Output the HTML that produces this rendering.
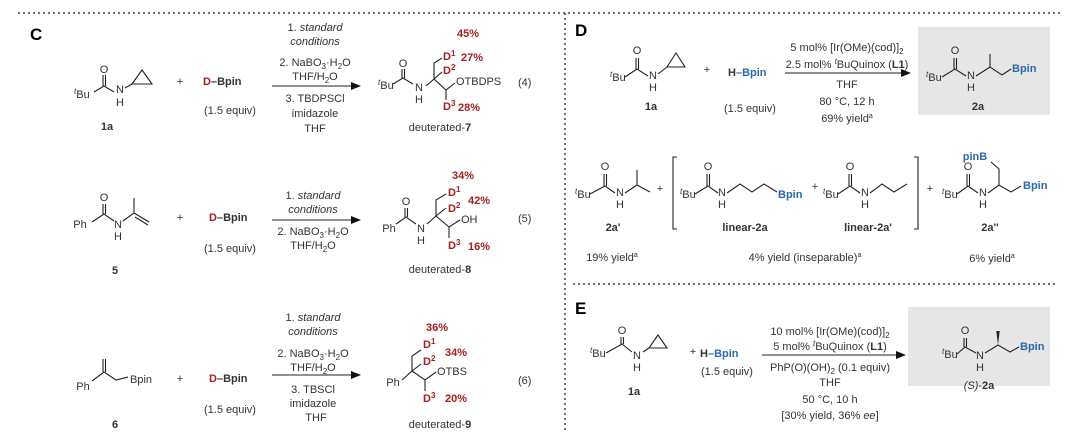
<!DOCTYPE html>
<html><head><meta charset="utf-8"><style>
html,body{margin:0;padding:0;background:#fff;}
svg{display:block;font-family:"Liberation Sans",sans-serif;}
.t{font-size:11px;fill:#333;}
.b{font-weight:bold;}
.r{fill:#a3201f;font-weight:bold;}
.bl{fill:#2c68ad;font-weight:bold;}
.m{text-anchor:middle;}
line,polyline,polygon{stroke:#222;stroke-width:1.1;fill:none;}
.dot{stroke:#444;stroke-width:1.5;stroke-dasharray:2 3;}
</style></head><body>
<svg width="1080" height="442" viewBox="0 0 1080 442">
<defs><marker id="ar" markerWidth="10" markerHeight="8" refX="9" refY="4" orient="auto" markerUnits="userSpaceOnUse"><path d="M0,0 L10,4 L0,8 z" fill="#111"/></marker></defs>
<line class="dot" x1="18" y1="13" x2="1060" y2="13"/>
<line class="dot" x1="565" y1="13" x2="565" y2="430"/>
<line class="dot" x1="573" y1="284" x2="1055" y2="284"/>
<text x="30" y="40" style="font-size:17px;font-weight:bold">C</text>
<text x="575" y="36" style="font-size:17px;font-weight:bold">D</text>
<text x="575" y="314" style="font-size:17px;font-weight:bold">E</text>

<!-- ===== C row 1 ===== -->
<g class="t">
<text x="74" y="98"><tspan font-style="italic" font-size="8" dy="-4">t</tspan><tspan dy="4">Bu</tspan></text>
<text x="104" y="73" class="m">O</text>
<text x="120" y="93" class="m">N</text><text x="120" y="106" class="m">H</text>
<text x="107" y="130" class="m b">1a</text>
<text x="180" y="85" class="m">+</text>
<text x="203" y="85"><tspan class="r">D</tspan><tspan class="b">–Bpin</tspan></text>
<text x="230" y="114" class="m">(1.5 equiv)</text>
<text x="315" y="31" class="m">1. <tspan font-style="italic">standard</tspan></text>
<text x="315" y="45" class="m" font-style="italic">conditions</text>
<text x="315" y="66" class="m">2. NaBO<tspan font-size="8" dy="3">3</tspan><tspan dy="-3">·H</tspan><tspan font-size="8" dy="3">2</tspan><tspan dy="-3">O</tspan></text>
<text x="315" y="80" class="m">THF/H<tspan font-size="8" dy="3">2</tspan><tspan dy="-3">O</tspan></text>
<text x="315" y="102" class="m">3. TBDPSCl</text>
<text x="315" y="117" class="m">imidazole</text>
<text x="315" y="132" class="m">THF</text>
<text x="378" y="89"><tspan font-style="italic" font-size="8" dy="-4">t</tspan><tspan dy="4">Bu</tspan></text>
<text x="403" y="67" class="m">O</text>
<text x="419" y="91" class="m">N</text><text x="419" y="103" class="m">H</text>
<text x="443" y="60" class="r">D<tspan font-size="8" dy="-4">1</tspan></text>
<text x="443" y="74" class="r">D<tspan font-size="8" dy="-4">2</tspan></text>
<text x="456" y="85">OTBDPS</text>
<text x="443" y="110" class="r">D<tspan font-size="8" dy="-4">3</tspan></text>
<text x="457" y="37" class="r">45%</text>
<text x="461" y="61" class="r">27%</text>
<text x="458" y="111" class="r">28%</text>
<text x="440" y="131" class="m">deuterated-<tspan class="b">7</tspan></text>
<text x="518" y="86">(4)</text>
</g>
<polyline points="94,92 104,86 114,92"/>
<line x1="103" y1="86" x2="103" y2="75"/><line x1="105.5" y1="86" x2="105.5" y2="75"/>
<polygon points="132,84 142,70 152,84"/><line x1="125" y1="88" x2="132" y2="84"/>
<line x1="272" y1="86" x2="360" y2="86" marker-end="url(#ar)"/>
<polyline points="393,84 403,78 413,84"/>
<line x1="402" y1="78" x2="402" y2="69"/><line x1="404.5" y1="78" x2="404.5" y2="69"/>
<polyline points="426,86 434,79 434,63 442,58"/>
<line x1="434" y1="79" x2="442" y2="72"/>
<polyline points="434,79 446,90 455,83"/>
<line x1="446" y1="90" x2="446" y2="100"/>

<!-- ===== C row 2 ===== -->
<g class="t">
<text x="80" y="228" class="m">Ph</text>
<text x="104" y="201" class="m">O</text>
<text x="118" y="228" class="m">N</text><text x="118" y="240" class="m">H</text>
<text x="115" y="274" class="m b">5</text>
<text x="180" y="221" class="m">+</text>
<text x="209" y="221"><tspan class="r">D</tspan><tspan class="b">–Bpin</tspan></text>
<text x="230" y="252" class="m">(1.5 equiv)</text>
<text x="313" y="199" class="m">1. <tspan font-style="italic">standard</tspan></text>
<text x="313" y="213" class="m" font-style="italic">conditions</text>
<text x="313" y="235" class="m">2. NaBO<tspan font-size="8" dy="3">3</tspan><tspan dy="-3">·H</tspan><tspan font-size="8" dy="3">2</tspan><tspan dy="-3">O</tspan></text>
<text x="313" y="249" class="m">THF/H<tspan font-size="8" dy="3">2</tspan><tspan dy="-3">O</tspan></text>
<text x="389" y="232" class="m">Ph</text>
<text x="406" y="205" class="m">O</text>
<text x="421" y="232" class="m">N</text><text x="421" y="244" class="m">H</text>
<text x="448" y="196" class="r">D<tspan font-size="8" dy="-4">1</tspan></text>
<text x="448" y="212" class="r">D<tspan font-size="8" dy="-4">2</tspan></text>
<text x="461" y="223">OH</text>
<text x="448" y="249" class="r">D<tspan font-size="8" dy="-4">3</tspan></text>
<text x="452" y="179" class="r">34%</text>
<text x="468" y="204" class="r">42%</text>
<text x="468" y="250" class="r">16%</text>
<text x="440" y="273" class="m">deuterated-<tspan class="b">8</tspan></text>
<text x="518" y="222">(5)</text>
</g>
<polyline points="92,222 104,214 114,221"/>
<line x1="103" y1="214" x2="103" y2="204"/><line x1="105.5" y1="214" x2="105.5" y2="204"/>
<polyline points="123,221 134,213 134,198"/>
<line x1="134" y1="213" x2="149" y2="222"/><line x1="135" y1="217" x2="148" y2="225"/>
<line x1="272" y1="220" x2="360" y2="220" marker-end="url(#ar)"/>
<polyline points="396,224 406,217 416,224"/>
<line x1="405" y1="217" x2="405" y2="208"/><line x1="407.5" y1="217" x2="407.5" y2="208"/>
<polyline points="427,224 436,216 436,200 446,194"/>
<line x1="436" y1="216" x2="446" y2="208"/>
<polyline points="436,216 449,227 460,220"/>
<line x1="449" y1="227" x2="449" y2="238"/>

<!-- ===== C row 3 ===== -->
<g class="t">
<text x="83" y="390" class="m">Ph</text>
<text x="130" y="383">Bpin</text>
<text x="115" y="428" class="m b">6</text>
<text x="180" y="382" class="m">+</text>
<text x="209" y="382"><tspan class="r">D</tspan><tspan class="b">–Bpin</tspan></text>
<text x="230" y="413" class="m">(1.5 equiv)</text>
<text x="313" y="321" class="m">1. <tspan font-style="italic">standard</tspan></text>
<text x="313" y="335" class="m" font-style="italic">conditions</text>
<text x="313" y="357" class="m">2. NaBO<tspan font-size="8" dy="3">3</tspan><tspan dy="-3">·H</tspan><tspan font-size="8" dy="3">2</tspan><tspan dy="-3">O</tspan></text>
<text x="313" y="371" class="m">THF/H<tspan font-size="8" dy="3">2</tspan><tspan dy="-3">O</tspan></text>
<text x="313" y="393" class="m">3. TBSCl</text>
<text x="313" y="407" class="m">imidazole</text>
<text x="316" y="421" class="m">THF</text>
<text x="393" y="386" class="m">Ph</text>
<text x="423" y="348" class="r">D<tspan font-size="8" dy="-4">1</tspan></text>
<text x="423" y="365" class="r">D<tspan font-size="8" dy="-4">2</tspan></text>
<text x="437" y="375">OTBS</text>
<text x="423" y="402" class="r">D<tspan font-size="8" dy="-4">3</tspan></text>
<text x="426" y="331" class="r">36%</text>
<text x="445" y="356" class="r">34%</text>
<text x="445" y="402" class="r">20%</text>
<text x="440" y="428" class="m">deuterated-<tspan class="b">9</tspan></text>
<text x="518" y="384">(6)</text>
</g>
<polyline points="92,381 104,372 116,380 128,377"/>
<line x1="103" y1="372" x2="103" y2="359"/><line x1="105.5" y1="372" x2="105.5" y2="359"/>
<line x1="272" y1="375" x2="360" y2="375" marker-end="url(#ar)"/>
<polyline points="402,380 412,371 412,356 421,350"/>
<line x1="412" y1="371" x2="421" y2="364"/>
<polyline points="412,371 425,380 436,372"/>
<line x1="425" y1="380" x2="425" y2="391"/>

<!-- ===== D ===== -->
<rect x="918" y="27" width="132" height="88" fill="#e6e6e6"/>
<g class="t">
<text x="610" y="81"><tspan font-style="italic" font-size="8" dy="-4">t</tspan><tspan dy="4">Bu</tspan></text>
<text x="637" y="54" class="m">O</text>
<text x="653" y="79" class="m">N</text><text x="653" y="91" class="m">H</text>
<text x="651" y="110" class="m b">1a</text>
<text x="707" y="73" class="m">+</text>
<text x="728" y="76" class="b">H<tspan fill="#2c68ad">–Bpin</tspan></text>
<text x="750" y="112" class="m">(1.5 equiv)</text>
<text x="847" y="51" class="m">5 mol% [Ir(OMe)(cod)]<tspan font-size="8" dy="3">2</tspan></text>
<text x="847" y="68" class="m">2.5 mol% <tspan font-style="italic" font-size="8" dy="-4">t</tspan><tspan dy="4">BuQuinox (</tspan><tspan class="b">L1</tspan>)</text>
<text x="847" y="88" class="m">THF</text>
<text x="847" y="105" class="m">80 °C, 12 h</text>
<text x="847" y="122" class="m">69% yield<tspan font-size="7" dy="-4">a</tspan></text>
<text x="926" y="81"><tspan font-style="italic" font-size="8" dy="-4">t</tspan><tspan dy="4">Bu</tspan></text>
<text x="955" y="54" class="m">O</text>
<text x="971" y="79" class="m">N</text><text x="971" y="91" class="m">H</text>
<text x="1012" y="72" class="bl">Bpin</text>
<text x="978" y="110" class="m b">2a</text>

<text x="575" y="198"><tspan font-style="italic" font-size="8" dy="-4">t</tspan><tspan dy="4">Bu</tspan></text>
<text x="605" y="170" class="m">O</text>
<text x="620" y="196" class="m">N</text><text x="620" y="208" class="m">H</text>
<text x="613" y="231" class="m b">2a'</text>
<text x="660" y="192" class="m">+</text>
<text x="680" y="198"><tspan font-style="italic" font-size="8" dy="-4">t</tspan><tspan dy="4">Bu</tspan></text>
<text x="708" y="170" class="m">O</text>
<text x="722" y="196" class="m">N</text><text x="722" y="208" class="m">H</text>
<text x="778" y="198" class="bl">Bpin</text>
<text x="745" y="231" class="m b">linear-2a</text>
<text x="815" y="190" class="m">+</text>
<text x="823" y="198"><tspan font-style="italic" font-size="8" dy="-4">t</tspan><tspan dy="4">Bu</tspan></text>
<text x="850" y="170" class="m">O</text>
<text x="865" y="196" class="m">N</text><text x="865" y="208" class="m">H</text>
<text x="868" y="231" class="m b">linear-2a'</text>
<text x="930" y="192" class="m">+</text>
<text x="942" y="198"><tspan font-style="italic" font-size="8" dy="-4">t</tspan><tspan dy="4">Bu</tspan></text>
<text x="968" y="170" class="m">O</text>
<text x="983" y="196" class="m">N</text><text x="983" y="208" class="m">H</text>
<text x="975" y="160" class="m bl">pinB</text>
<text x="1023" y="189" class="bl">Bpin</text>
<text x="990" y="231" class="m b">2a''</text>
<text x="612" y="261" class="m">19% yield<tspan font-size="7" dy="-4">a</tspan></text>
<text x="805" y="261" class="m">4% yield (inseparable)<tspan font-size="7" dy="-4">a</tspan></text>
<text x="992" y="262" class="m">6% yield<tspan font-size="7" dy="-4">a</tspan></text>
</g>
<polyline points="625,77 637,69 648,76"/>
<line x1="636" y1="69" x2="636" y2="58"/><line x1="638.5" y1="69" x2="638.5" y2="58"/>
<polygon points="667,67 676,53 685,67"/><line x1="658" y1="74" x2="667" y2="67"/>
<line x1="785" y1="73" x2="910" y2="73" marker-end="url(#ar)"/>
<polyline points="942,77 955,69 966,76"/>
<line x1="954" y1="69" x2="954" y2="58"/><line x1="956.5" y1="69" x2="956.5" y2="58"/>
<polyline points="976,76 990,67 1002,75 1011,69"/><line x1="990" y1="67" x2="990" y2="54"/>
<polyline points="590,194 605,186 615,193"/>
<line x1="604" y1="186" x2="604" y2="174"/><line x1="606.5" y1="186" x2="606.5" y2="174"/>
<polyline points="625,193 637,185 650,192"/><line x1="637" y1="185" x2="637" y2="170"/>
<polyline points="677,157 673,157 673,229 677,229"/>
<polyline points="914,157 918,157 918,229 914,229"/>
<polyline points="695,194 708,186 718,193"/>
<line x1="707" y1="186" x2="707" y2="174"/><line x1="709.5" y1="186" x2="709.5" y2="174"/>
<polyline points="727,193 740,184 752,192 764,184 777,192"/>
<polyline points="838,194 850,186 860,193"/>
<line x1="849" y1="186" x2="849" y2="174"/><line x1="851.5" y1="186" x2="851.5" y2="174"/>
<polyline points="870,193 882,184 894,192 907,184"/>
<polyline points="957,194 968,186 978,193"/>
<line x1="967" y1="186" x2="967" y2="174"/><line x1="969.5" y1="186" x2="969.5" y2="174"/>
<polyline points="988,193 999,185 1011,192 1021,186"/>
<polyline points="999,185 999,169 991,162"/>

<!-- ===== E ===== -->
<rect x="908" y="307" width="142" height="79" fill="#e6e6e6"/>
<g class="t">
<text x="590" y="357"><tspan font-style="italic" font-size="8" dy="-4">t</tspan><tspan dy="4">Bu</tspan></text>
<text x="622" y="334" class="m">O</text>
<text x="637" y="359" class="m">N</text><text x="637" y="371" class="m">H</text>
<text x="634" y="395" class="m b">1a</text>
<text x="693" y="355" class="m">+</text>
<text x="700" y="357" class="b">H<tspan fill="#2c68ad">–Bpin</tspan></text>
<text x="727" y="375" class="m">(1.5 equiv)</text>
<text x="830" y="335" class="m">10 mol% [Ir(OMe)(cod)]<tspan font-size="8" dy="3">2</tspan></text>
<text x="830" y="350" class="m">5 mol% <tspan font-style="italic" font-size="8" dy="-4">t</tspan><tspan dy="4">BuQuinox (</tspan><tspan class="b">L1</tspan>)</text>
<text x="830" y="371" class="m">PhP(O)(OH)<tspan font-size="8" dy="3">2</tspan><tspan dy="-3"> (0.1 equiv)</tspan></text>
<text x="830" y="386" class="m">THF</text>
<text x="830" y="403" class="m">50 °C, 10 h</text>
<text x="830" y="419" class="m">[30% yield, 36% <tspan font-style="italic">ee</tspan>]</text>
<text x="942" y="358"><tspan font-style="italic" font-size="8" dy="-4">t</tspan><tspan dy="4">Bu</tspan></text>
<text x="965" y="334" class="m">O</text>
<text x="980" y="359" class="m">N</text><text x="980" y="371" class="m">H</text>
<text x="1020" y="350" class="bl">Bpin</text>
<text x="979" y="389" class="m"><tspan font-style="italic">(S)</tspan>-<tspan class="b">2a</tspan></text>
</g>
<polyline points="606,353 622,344 632,352"/>
<line x1="621" y1="344" x2="621" y2="337"/><line x1="623.5" y1="344" x2="623.5" y2="337"/>
<polygon points="649,348 658,335 667,348"/><line x1="643" y1="352" x2="649" y2="348"/>
<line x1="762" y1="355" x2="905" y2="355" marker-end="url(#ar)"/>
<polyline points="957,354 965,347 976,353"/>
<line x1="964" y1="347" x2="964" y2="338"/><line x1="966.5" y1="347" x2="966.5" y2="338"/>
<polyline points="985,353 998,345 1010,352 1019,347"/>
<path d="M998,345 L996.3,331 L999.7,331 Z" fill="#222" stroke="none"/>
</svg>
</body></html>
